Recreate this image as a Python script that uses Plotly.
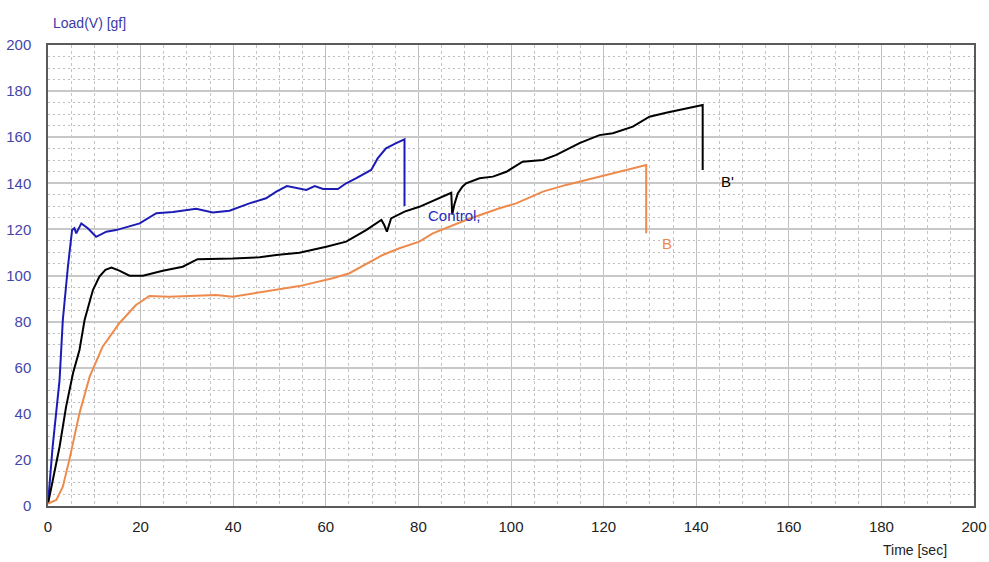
import plotly.graph_objects as go

# ---- data ----
control_t = [0, 1.0, 2.5, 3.2, 4.3, 5.2, 5.7, 6.1, 7.2, 8.6, 10.4, 12.6, 14.7, 19.8, 23.4, 27.0, 32.0,
             35.6, 39.2, 43.5, 47.1, 49.3, 51.6, 54.3, 55.8, 57.6, 59.4, 62.6, 64.4, 66.6, 69.8, 71.2,
             73.0, 75.2, 77.0, 77.0]
control_v = [1, 25.7, 54.7, 80.7, 103.8, 119.7, 120.5, 118.3, 122.6, 120.5, 116.8, 119.0, 119.7, 122.6,
             127.0, 127.5, 129.0, 127.3, 128.1, 131.3, 133.5, 136.4, 138.8, 137.8, 137.1, 138.8, 137.5,
             137.5, 140.0, 142.2, 145.8, 150.8, 155.2, 157.4, 159.1, 130.2]

bprime_t = [0, 2.5, 3.9, 5.4, 6.8, 7.9, 9.7, 11.1, 12.4, 13.7, 15.4, 17.6, 20.5, 24.8, 29.1, 32.3, 39.9,
            45.7, 49.3, 54.3, 60.1, 64.4, 68.7, 72.0, 72.6, 73.2, 74.1, 77.0, 80.2, 87.1, 87.3, 87.8,
            88.5, 89.5, 90.3, 93.2, 96.1, 99.0, 102.5, 106.9, 109.8, 114.8, 119.1, 122.0, 126.3, 129.9,
            133.5, 137.8, 141.4, 141.4]
bprime_v = [1, 25.7, 43.0, 57.6, 67.7, 80.7, 93.7, 99.5, 102.5, 103.4, 102.1, 99.9, 99.9, 102.1, 103.8,
            107.1, 107.4, 107.9, 108.9, 109.9, 112.5, 114.7, 119.7, 124.1, 122.0, 119.0, 124.8, 127.7,
            129.8, 135.9, 126.5, 131.0, 135.6, 138.5, 140.0, 142.2, 142.9, 145.0, 149.4, 150.1, 152.3,
            157.4, 160.9, 161.7, 164.6, 168.9, 170.6, 172.5, 174.0, 145.8]

b_t = [0, 1.8, 3.2, 4.6, 6.8, 9.0, 11.8, 15.4, 19.0, 21.9, 26.2, 36.3, 39.9, 47.1, 54.3, 61.5, 65.1,
       72.3, 75.9, 80.2, 83.1, 90.3, 97.5, 101.1, 106.9, 111.9, 119.1, 122.7, 129.2, 129.2]
b_v = [1, 2.6, 8.4, 20.0, 40.2, 56.1, 69.1, 79.3, 87.2, 91.1, 90.8, 91.5, 90.8, 93.0, 95.4, 98.8, 101.0,
       108.9, 111.8, 114.7, 118.3, 124.1, 129.2, 131.3, 136.4, 139.3, 142.9, 144.6, 147.9, 118.3]

series_names = ["Control,", "B'", "B"]
label_pos_t = [87.8, 146.8, 133.8]
label_pos_v = [126.2, 141.0, 114.0]

x_ticks = [0, 20, 40, 60, 80, 100, 120, 140, 160, 180, 200]
y_ticks = [0, 20, 40, 60, 80, 100, 120, 140, 160, 180, 200]

BLUE = "#1c1cb4"
BLACK = "#000000"
ORANGE = "#ee8a4c"
FONT = "Liberation Sans, Arial, sans-serif"

L, R, T, B = 48, 15, 45, 56
PW, PH = 989 - L - R, 562 - T - B

fig = go.Figure()
fig.add_trace(go.Scatter(x=control_t, y=control_v, mode="lines", line=dict(color=BLUE, width=2),
                         name=series_names[0], hoverinfo="skip"))
fig.add_trace(go.Scatter(x=bprime_t, y=bprime_v, mode="lines", line=dict(color=BLACK, width=2),
                         name=series_names[1], hoverinfo="skip"))
fig.add_trace(go.Scatter(x=b_t, y=b_v, mode="lines", line=dict(color=ORANGE, width=2),
                         name=series_names[2], hoverinfo="skip"))

label_colors = ["#2a2ac0", BLACK, ORANGE]
for name, tx, ty, c in zip(series_names, label_pos_t, label_pos_v, label_colors):
    fig.add_annotation(x=tx, y=ty, xref="x", yref="y", text=name, showarrow=False,
                       font=dict(family=FONT, size=15, color=c))

fig.add_annotation(xref="paper", yref="paper", x=(51 - L) / PW, y=1 + (T - 23) / PH,
                   xanchor="left", yanchor="middle", text="Load(V) [gf]", showarrow=False,
                   font=dict(family=FONT, size=14, color="#3a3aa8"))
fig.add_annotation(xref="paper", yref="paper", x=(949 - L) / PW, y=-(550 - (562 - B)) / PH,
                   xanchor="right", yanchor="middle", text="Time [sec]", showarrow=False,
                   font=dict(family=FONT, size=14, color="#222222"))

fig.update_layout(
    width=989, height=562,
    margin=dict(l=L, r=R, t=T, b=B, autoexpand=False),
    paper_bgcolor="white", plot_bgcolor="white",
    showlegend=False,
    xaxis=dict(range=[0, 200], tickvals=x_ticks, ticktext=[str(v) for v in x_ticks],
               automargin=False,
               showgrid=True, gridcolor="#c0c0c0", gridwidth=1,
               minor=dict(dtick=5, showgrid=True, gridcolor="#c4c4c4", griddash="3px,3px", gridwidth=1),
               showline=True, linecolor="#5a5a5a", linewidth=1.5, mirror=True,
               zeroline=False, ticks="", ticklabelstandoff=6,
               tickfont=dict(family=FONT, size=15, color="#222222")),
    yaxis=dict(range=[0, 200], tickvals=y_ticks, ticktext=[str(v) for v in y_ticks],
               automargin=False,
               showgrid=True, gridcolor="#c8c8c8", gridwidth=2,
               minor=dict(dtick=5, showgrid=True, gridcolor="#bdbdbd", griddash="2px,3px", gridwidth=1),
               showline=True, linecolor="#5a5a5a", linewidth=1.5, mirror=True,
               zeroline=False, ticks="", ticklabelstandoff=12,
               tickfont=dict(family=FONT, size=15, color="#4545a8")),
)

fig.write_html("out.html", config={"displayModeBar": False},
               post_script="document.body.style.margin='0';document.body.style.overflow='hidden';")
